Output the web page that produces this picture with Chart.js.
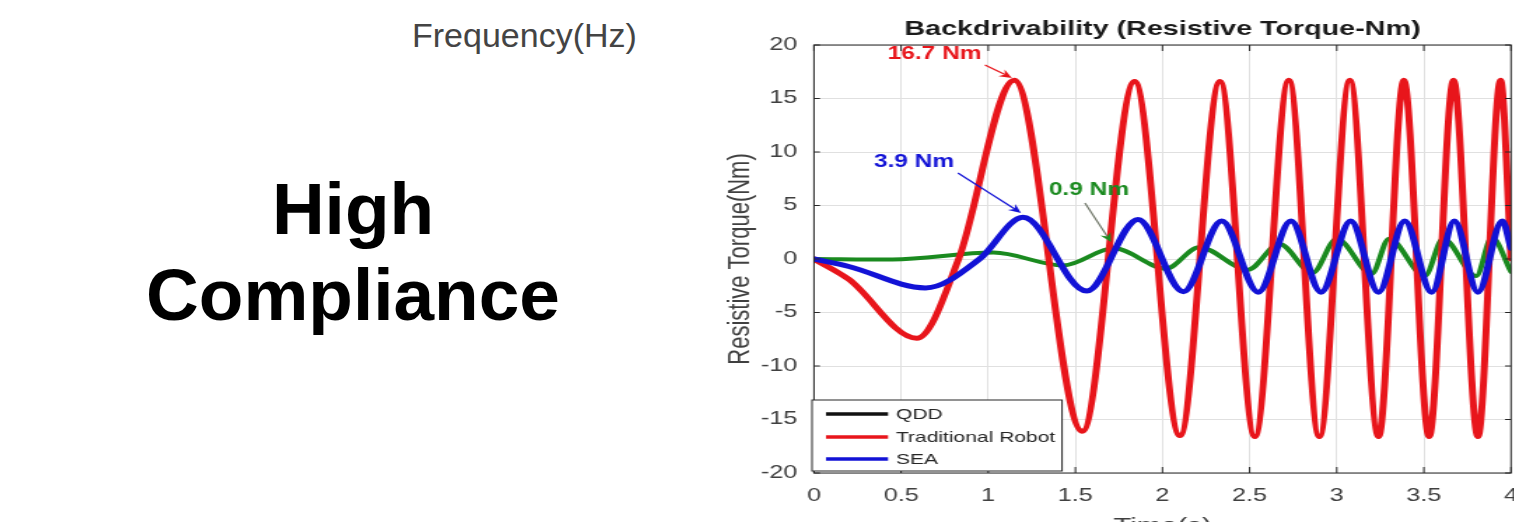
<!DOCTYPE html>
<html>
<head>
<meta charset="utf-8">
<script src="https://cdn.jsdelivr.net/npm/chart.js@4.4.1/dist/chart.umd.min.js"></script>
<style>
  html, body { margin: 0; padding: 0; background: #fff; width: 1514px; height: 522px; overflow: hidden; position: relative;
               font-family: "Liberation Sans", Arial, sans-serif; }
  #freq { position: absolute; left: 412px; top: 18px; font-size: 34px; line-height: 34px; color: #444; white-space: nowrap; }
  #big { position: absolute; left: 103px; top: 166px; width: 500px; text-align: center; font-size: 73px; line-height: 86px;
         font-weight: bold; color: #000; }
  /* the source figure is stretched sideways, so the chart is too */
  #wrap { position: absolute; left: 700px; top: 0; width: 610px; height: 540px; transform: scaleX(1.4); transform-origin: 0 0; }
</style>
</head>
<body>
<div id="freq">Frequency(Hz)</div>
<div id="big">High<br>Compliance</div>
<div id="wrap"><canvas id="chart" width="610" height="540"></canvas></div>
<script>
// data (peaks / troughs, time in s, torque in Nm)
const timeQDD   = [0, 0.45, 1.03, 1.43, 1.72, 2.02, 2.21, 2.49, 2.67, 2.86, 3.0, 3.20, 3.30, 3.505, 3.61, 3.80, 3.89, 4.0];
const torqueQDD = [0, -0.05, 0.6, -0.6, 1.0, -0.9, 1.1, -1.0, 1.4, -1.3, 1.9, -1.4, 1.9, -1.6, 1.9, -1.6, 2.0, -1.2];

const timeRobot   = [0, 0.2, 0.59, 0.83, 1.15, 1.54, 1.84, 2.10, 2.33, 2.53, 2.725, 2.90, 3.075, 3.24, 3.385, 3.53, 3.67, 3.81, 3.94, 4.0];
const torqueRobot = [0, -1.9, -7.4, 0, 16.7, -16.1, 16.6, -16.5, 16.6, -16.6, 16.7, -16.6, 16.7, -16.6, 16.7, -16.6, 16.7, -16.6, 16.7, 0];

const timeSEA   = [0, 0.2, 0.64, 0.95, 1.20, 1.565, 1.86, 2.12, 2.34, 2.55, 2.737, 2.91, 3.08, 3.24, 3.39, 3.545, 3.675, 3.81, 3.95, 4.0];
const torqueSEA = [0, -0.7, -2.7, 0, 3.9, -3.0, 3.7, -3.05, 3.55, -3.1, 3.55, -3.1, 3.55, -3.1, 3.55, -3.1, 3.55, -3.1, 3.55, 1.0];

const xTicks = [0, 0.5, 1, 1.5, 2, 2.5, 3, 3.5, 4];
const yTicks = [-20, -15, -10, -5, 0, 5, 10, 15, 20];
const seriesNames = ['QDD', 'Traditional Robot', 'SEA'];

const RED = '#e8151b', BLUE = '#1212d6', GREEN = '#1a8a1f';
const FONT = "'Liberation Sans', Arial, sans-serif";
const legendColors = ['#111', RED, BLUE];

// callouts, placed in data units
const notes = [
  { text: '16.7 Nm', color: RED, at: [0.692, 19.16], from: [0.981, 18.13], to: [1.136, 16.92], shaft: RED },
  { text: '3.9 Nm', color: BLUE, at: [0.574, 9.07], from: [0.826, 8.04], to: [1.188, 4.30], shaft: BLUE },
  { text: '0.9 Nm', color: GREEN, at: [1.578, 6.45], from: [1.555, 5.23], to: [1.704, 1.59], shaft: '#6d7466' }
];

Chart.defaults.font.family = FONT;

const toPoints = (t, v) => t.map((x, i) => ({ x: x, y: v[i] }));
const lineStyle = { pointRadius: 0, fill: false, cubicInterpolationMode: 'monotone', borderCapStyle: 'round', borderJoinStyle: 'round' };

const frame = {
  id: 'frame',
  afterDraw(chart) {
    const { ctx, chartArea: a, scales: { x, y } } = chart;
    ctx.save();
    // box + inward ticks
    ctx.strokeStyle = '#262626';
    ctx.lineWidth = 1;
    ctx.strokeRect(a.left, a.top, a.right - a.left, a.bottom - a.top);
    ctx.beginPath();
    xTicks.forEach(v => {
      const px = x.getPixelForValue(v);
      ctx.moveTo(px, a.bottom); ctx.lineTo(px, a.bottom - 6);
      ctx.moveTo(px, a.top); ctx.lineTo(px, a.top + 6);
    });
    yTicks.forEach(v => {
      const py = y.getPixelForValue(v);
      ctx.moveTo(a.left, py); ctx.lineTo(a.left + 4.3, py);
      ctx.moveTo(a.right, py); ctx.lineTo(a.right - 4.3, py);
    });
    ctx.stroke();

    // callouts
    ctx.font = 'bold 17.5px ' + FONT;
    ctx.textAlign = 'center';
    ctx.textBaseline = 'middle';
    notes.forEach(n => {
      ctx.fillStyle = n.color;
      ctx.fillText(n.text, x.getPixelForValue(n.at[0]), y.getPixelForValue(n.at[1]));
      const x0 = x.getPixelForValue(n.from[0]), y0 = y.getPixelForValue(n.from[1]);
      const x1 = x.getPixelForValue(n.to[0]), y1 = y.getPixelForValue(n.to[1]);
      const ang = Math.atan2(y1 - y0, x1 - x0);
      ctx.strokeStyle = n.shaft;
      ctx.lineWidth = 1.2;
      ctx.beginPath();
      ctx.moveTo(x0, y0);
      ctx.lineTo(x1 - 6 * Math.cos(ang), y1 - 6 * Math.sin(ang));
      ctx.stroke();
      ctx.fillStyle = n.color;
      ctx.beginPath();
      ctx.moveTo(x1, y1);
      ctx.lineTo(x1 - 9 * Math.cos(ang) + 4 * Math.sin(ang), y1 - 9 * Math.sin(ang) - 4 * Math.cos(ang));
      ctx.lineTo(x1 - 6 * Math.cos(ang), y1 - 6 * Math.sin(ang));
      ctx.lineTo(x1 - 9 * Math.cos(ang) - 4 * Math.sin(ang), y1 - 9 * Math.sin(ang) + 4 * Math.cos(ang));
      ctx.closePath();
      ctx.fill();
    });

    // legend, bottom-left inside the axes
    const bx = a.left - 1.4, by = a.bottom - 73, bw = 178.6, bh = 71;
    ctx.fillStyle = '#fff';
    ctx.fillRect(bx, by, bw, bh);
    ctx.strokeStyle = '#262626';
    ctx.lineWidth = 1;
    ctx.strokeRect(bx, by, bw, bh);
    ctx.font = '15px ' + FONT;
    ctx.textAlign = 'left';
    const rows = [-59, -36, -14];
    chart.data.datasets.forEach((ds, i) => {
      const ry = a.bottom + rows[i];
      ctx.strokeStyle = legendColors[i];
      ctx.lineWidth = 3.5;
      ctx.beginPath();
      ctx.moveTo(a.left + 8.6, ry); ctx.lineTo(a.left + 52.9, ry);
      ctx.stroke();
      ctx.fillStyle = '#262626';
      ctx.fillText(ds.label, a.left + 58.6, ry + 1);
    });
    ctx.restore();
  }
};

new Chart(document.getElementById('chart').getContext('2d'), {
  type: 'line',
  data: {
    datasets: [
      { label: seriesNames[0], data: toPoints(timeQDD, torqueQDD), borderColor: GREEN, borderWidth: 4, order: 2, ...lineStyle },
      { label: seriesNames[1], data: toPoints(timeRobot, torqueRobot), borderColor: RED, borderWidth: 5, order: 1, ...lineStyle },
      { label: seriesNames[2], data: toPoints(timeSEA, torqueSEA), borderColor: BLUE, borderWidth: 5, order: 0, ...lineStyle }
    ]
  },
  options: {
    responsive: false,
    animation: false,
    events: [],
    layout: { padding: { left: 0, right: 30.7, top: 0, bottom: 0 } },
    plugins: {
      legend: { display: false },
      tooltip: { enabled: false },
      title: { display: false }
    },
    scales: {
      x: {
        type: 'linear', position: 'bottom', min: 0, max: 4,
        afterBuildTicks: s => { s.ticks = xTicks.map(v => ({ value: v })); },
        afterFit: s => { s.height = 67; },
        ticks: { font: { size: 18 }, color: '#404040', padding: 12, maxRotation: 0, autoSkip: false, callback: v => String(v) },
        grid: { color: '#e0e0e0', drawTicks: false },
        border: { display: false },
        title: { display: true, text: 'Time(s)', font: { size: 21 }, color: '#404040', padding: { top: 0, bottom: 1.4 } }
      },
      xTop: {
        type: 'linear', axis: 'x', position: 'top', min: 0, max: 4, display: true,
        afterFit: s => { s.height = 45; },
        ticks: { display: false },
        grid: { display: false, drawTicks: false },
        border: { display: false },
        title: { display: true, text: 'Backdrivability (Resistive Torque-Nm)', font: { size: 20.5, weight: 'bold' }, color: '#1a1a1a', padding: { top: 17, bottom: 0 } }
      },
      y: {
        type: 'linear', position: 'left', min: -20, max: 20,
        afterBuildTicks: s => { s.ticks = yTicks.map(v => ({ value: v })); },
        afterFit: s => { s.width = 81.4; },
        ticks: { font: { size: 18 }, color: '#404040', padding: 12, callback: v => String(v) },
        grid: { color: '#e0e0e0', drawTicks: false },
        border: { display: false },
        title: { display: true, text: 'Resistive Torque(Nm)', font: { size: 22 }, color: '#404040', padding: { top: 16, bottom: 0 } }
      }
    }
  },
  plugins: [frame]
});
</script>
</body>
</html>
